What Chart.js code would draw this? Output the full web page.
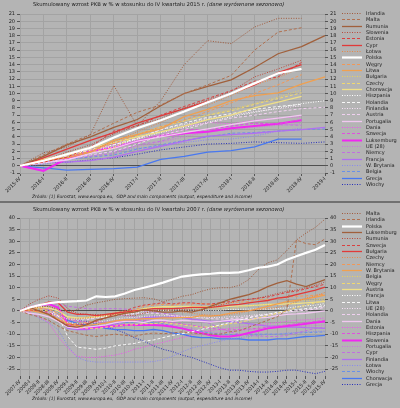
<!DOCTYPE html>
<html><head><meta charset="utf-8">
<script src="https://cdn.jsdelivr.net/npm/chart.js@4.4.0/dist/chart.umd.min.js"></script>
<style>
html,body{margin:0;padding:0;background:#b4b4b4;}
#wrap{width:400px;height:408px;position:relative;overflow:hidden;background:#b4b4b4;}
#c1{position:absolute;left:0;top:0;}
#sep{position:absolute;left:0;top:201px;width:400px;height:2px;background:#707070;}
#c2{position:absolute;left:0;top:203px;}
</style></head><body>
<div id="wrap">
<canvas id="c1" width="400" height="201" style="width:400px;height:201px"></canvas>
<div id="sep"></div>
<canvas id="c2" width="400" height="205" style="width:400px;height:205px"></canvas>
</div>
<script>
// ---------- TOP CHART DATA (vs 2015-IV) ----------
const topLabels = ['2015-IV','2016-I','2016-II','2016-III','2016-IV','2017-I','2017-II','2017-III','2017-IV','2018-I','2018-II','2018-III','2018-IV','2019-I'];
const topNames = ['Irlandia','Malta','Rumunia','Słowenia','Estonia','Cypr','Łotwa','Polska','Węgry','Litwa','Bułgaria','Czechy','Chorwacja','Hiszpania','Holandia','Finlandia','Austria','Portugalia','Dania','Szwecja','Luksemburg','UE (28)','Niemcy','Francja','W. Brytania','Belgia','Grecja','Włochy'];
const t_irl = [0,1.8,2.6,4.3,11.1,5.5,9.0,14.0,17.3,16.9,19.2,20.4,20.4,null];
const t_mlt = [0,1.5,3.0,4.3,5.9,7.4,8.4,10.0,11.2,12.5,16.0,18.5,19.1,null];
const t_rou = [0,1.3,2.9,4.0,5.3,6.4,8.3,10.0,11.0,11.9,13.6,15.5,16.5,18.0];
const t_svn = [0,0.7,1.9,2.9,4.4,5.6,6.5,8.0,9.1,10.3,12.3,13.4,14.6,null];
const t_est = [0,0.5,1.2,2.6,4.8,5.5,7.0,8.2,9.3,10.4,11.7,12.3,14.3,null];
const t_cyp = [0,1.1,2.3,3.5,4.6,5.9,6.9,7.9,8.9,10.0,11.2,12.9,14.0,null];
const t_lva = [0,0.6,1.2,2.2,3.3,4.7,6.0,7.6,8.4,9.7,11.2,12.2,13.6,null];
const t_pol = [0,0.7,1.6,2.5,3.9,5.2,6.3,7.5,8.8,10.0,11.4,12.8,13.4,null];
const t_hun = [0,0.5,1.2,2.0,3.1,4.3,5.4,6.3,7.5,8.7,10.0,11.2,12.6,null];
const t_ltu = [0,0.8,1.1,1.9,3.5,4.3,5.1,6.8,7.8,9.0,9.7,10.1,11.3,12.3];
const t_bgr = [0,0.9,1.7,2.6,3.5,4.4,5.4,6.2,7.0,7.8,8.6,9.5,10.5,null];
const t_cze = [0,0.6,1.5,1.9,2.5,4.2,5.4,6.2,7.0,7.6,8.5,9.3,10.1,null];
const t_hrv = [0,0.9,1.5,2.5,3.2,4.0,4.7,5.5,6.4,7.0,8.0,8.8,9.6,null];
const t_esp = [0,0.7,1.5,2.2,2.9,3.7,4.6,5.3,6.0,6.8,7.4,8.0,8.6,9.0];
const t_nld = [0,0.6,1.3,2.2,2.9,3.8,5.0,5.9,6.7,7.2,7.8,8.2,8.5,null];
const t_fin = [0,1.0,1.5,2.2,2.6,3.7,5.0,5.7,6.5,7.0,7.5,7.9,8.3,null];
const t_aut = [0,0.5,0.9,1.5,2.0,3.0,4.2,5.0,5.9,6.6,7.0,7.5,7.9,8.1];
const t_prt = [0,0.4,0.8,1.7,2.4,3.4,4.0,4.6,5.1,5.7,6.2,6.6,7.0,null];
const t_dnk = [0,0.9,1.6,2.2,3.0,3.8,4.3,5.4,6.0,5.8,6.3,6.6,6.8,null];
const t_swe = [0,0.4,1.2,1.8,2.9,3.3,4.2,5.0,5.0,5.5,5.9,5.8,6.4,null];
const t_lux = [0,-0.7,1.0,2.0,2.5,3.4,4.1,4.5,4.7,5.2,5.5,5.8,6.3,null];
const t_eu  = [0,0.5,0.9,1.4,2.0,2.7,3.3,4.0,4.7,5.0,5.3,5.6,5.8,null];
const t_deu = [0,0.6,1.1,1.3,1.7,2.9,3.4,4.4,5.0,5.5,5.9,5.7,5.6,null];
const t_fra = [0,0.6,0.5,0.7,1.2,2.0,2.7,3.4,4.1,4.3,4.5,4.8,5.0,5.3];
const t_gbr = [0,0.2,0.8,1.4,2.0,2.4,2.7,3.2,3.6,3.7,4.1,4.8,5.2,null];
const t_bel = [0,0.4,0.9,1.2,1.5,2.3,2.9,3.5,4.0,4.5,4.6,4.8,5.0,5.1];
const t_grc = [0,-0.3,-0.6,-0.5,-0.4,-0.2,0.9,1.3,1.9,2.1,2.6,3.7,3.7,null];
const t_ita = [0,0.4,0.5,0.8,1.1,1.6,2.2,2.6,3.0,3.1,3.3,3.2,3.1,3.3];
const topSeries = [t_irl,t_mlt,t_rou,t_svn,t_est,t_cyp,t_lva,t_pol,t_hun,t_ltu,t_bgr,t_cze,t_hrv,t_esp,t_nld,t_fin,t_aut,t_prt,t_dnk,t_swe,t_lux,t_eu,t_deu,t_fra,t_gbr,t_bel,t_grc,t_ita];
const topTicks = [-1,0,1,2,3,4,5,6,7,8,9,10,11,12,13,14,15,16,17,18,19,20,21];

// ---------- BOTTOM CHART DATA (vs 2007-IV) ----------
const botLabels = ['2007-IV','2008-I','2008-II','2008-III','2008-IV','2009-I','2009-II','2009-III','2009-IV','2010-I','2010-II','2010-III','2010-IV','2011-I','2011-II','2011-III','2011-IV','2012-I','2012-II','2012-III','2012-IV','2013-I','2013-II','2013-III','2013-IV','2014-I','2014-II','2014-III','2014-IV','2015-I','2015-II','2015-III','2015-IV'];
const botNames = ['Malta','Irlandia','Polska','Luksemburg','Rumunia','Szwecja','Bułgaria','Czechy','Niemcy','W. Brytania','Belgia','Węgry','Austria','Francja','Litwa','UE (28)','Holandia','Dania','Estonia','Hiszpania','Słowenia','Portugalia','Cypr','Finlandia','Łotwa','Włochy','Chorwacja','Grecja'];
const b_mlt = [0,1.2,1.8,2.0,0.8,-0.5,0.5,2.5,3.5,4.2,5.0,5.3,5.5,5.7,5.2,4.0,5.0,6.3,7.0,8.4,9.5,10.0,10.0,11.0,13.5,17.8,20.7,22.0,26.0,30.5,33.5,36.0,39.5];
const b_irl = [0,-1.5,-2.5,-4.0,-6.5,-8.5,-9.5,-10.5,-11.0,-10.5,-10.0,-10.5,-11.0,-10.0,-9.5,-9.8,-9.5,-9.0,-9.5,-9.8,-10.0,-10.0,-9.0,-8.5,-7.0,-5.5,-4.0,-2.5,0.5,30.5,29.0,28.5,31.0];
const b_pol = [0,1.5,2.5,3.3,3.8,4.0,4.2,4.5,6.3,6.0,6.3,7.5,9.0,10.0,11.0,12.2,13.5,14.8,15.3,15.7,16.0,16.4,16.4,16.6,17.5,18.6,19.1,20.0,22.0,23.5,25.0,26.3,28.4];
const b_lux = [0,1.5,0.0,-1.5,-4.0,-6.5,-7.0,-6.0,-4.0,-3.0,-2.0,-1.0,-0.5,0.5,0.0,-0.5,-0.5,0.0,-0.5,0.5,2.0,3.5,5.0,6.0,7.0,8.5,10.5,12.0,13.0,11.5,10.5,12.0,13.5];
const b_rou = [0,3.0,5.0,6.5,5.5,1.0,-1.0,-1.5,-1.5,-1.8,-1.5,-1.8,-2.0,-1.0,0.0,0.8,0.8,0.5,0.5,0.3,1.5,2.5,3.5,4.5,5.0,5.5,6.5,7.5,8.5,9.0,10.0,11.0,12.5];
const b_swe = [0,0.5,0.0,-0.5,-4.0,-6.0,-6.0,-5.5,-4.5,-3.0,-1.0,0.0,1.5,2.5,3.0,3.5,3.0,3.5,3.5,3.0,3.0,3.5,4.0,4.5,5.0,5.5,6.0,7.0,8.0,8.5,9.5,10.5,11.5];
const b_bgr = [0,1.5,2.5,3.8,3.5,-0.5,-1.5,-1.5,-2.0,-1.5,-1.0,-0.5,0.0,0.5,1.0,1.0,1.0,1.2,1.5,1.5,1.5,2.0,2.5,2.8,3.5,4.0,4.5,5.5,6.0,7.0,8.0,9.0,10.2];
const b_cze = [0,1.0,1.5,2.0,0.5,-3.5,-3.5,-3.0,-2.5,-2.0,-1.0,-0.5,0.0,0.5,0.5,0.5,0.0,-0.5,-1.0,-1.5,-1.8,-2.0,-1.5,-1.0,0.0,0.5,1.0,1.5,2.5,4.0,5.5,6.5,8.0];
const b_deu = [0,1.5,1.0,0.8,-1.0,-5.5,-5.5,-5.0,-4.0,-3.0,-1.0,-0.5,0.5,2.0,2.5,2.8,2.5,3.0,3.0,3.2,2.8,2.8,3.5,3.8,4.0,5.0,5.0,5.3,6.0,6.3,6.5,6.8,7.2];
const b_gbr = [0,0.3,-0.5,-1.5,-3.5,-5.5,-6.3,-6.3,-5.8,-5.2,-4.3,-3.8,-3.8,-3.3,-3.3,-3.0,-3.0,-2.8,-2.8,-2.0,-2.2,-1.8,-1.0,-0.3,0.0,1.0,2.0,3.0,4.0,4.5,5.2,6.0,6.8];
const b_bel = [0,0.8,1.0,0.8,-1.0,-3.0,-3.2,-2.6,-2.0,-1.5,-0.5,0.0,0.3,1.0,1.2,1.2,1.3,1.0,1.0,1.0,1.0,0.8,1.0,1.5,2.0,2.5,2.8,3.0,3.5,4.0,4.5,4.8,5.2];
const b_hun = [0,0.5,0.5,0.0,-2.0,-5.5,-7.0,-7.5,-7.5,-7.0,-6.5,-6.0,-6.0,-5.5,-5.5,-5.0,-5.5,-6.0,-6.5,-7.0,-6.8,-6.5,-5.5,-5.0,-4.0,-3.0,-2.0,-1.0,0.0,1.5,2.5,3.5,4.5];
const b_aut = [0,1.0,1.5,1.2,0.0,-2.5,-3.0,-3.0,-2.5,-2.0,-1.5,-1.0,0.0,1.0,1.5,1.8,1.8,2.0,2.0,1.8,1.8,1.8,2.0,2.2,2.3,2.5,2.8,2.8,3.0,3.2,3.5,3.8,4.0];
const b_fra = [0,0.5,0.0,-0.5,-2.0,-3.5,-3.5,-3.2,-2.8,-2.5,-1.8,-1.3,-1.0,0.0,0.0,0.2,0.3,0.3,0.0,0.2,0.3,0.2,0.7,0.7,0.8,0.8,0.8,1.0,1.3,1.8,2.2,2.5,3.2];
const b_ltu = [0,1.5,2.0,1.0,-2.0,-11.0,-15.6,-16.0,-16.5,-16.0,-15.0,-14.5,-14.0,-13.0,-12.5,-11.5,-10.5,-9.8,-9.0,-8.0,-7.0,-6.0,-5.0,-4.0,-3.0,-2.0,-1.5,-0.5,0.0,0.5,1.0,1.5,2.5];
const b_eu  = [0,0.5,0.2,-0.5,-2.5,-5.0,-5.5,-5.2,-4.8,-4.3,-3.5,-3.0,-2.8,-2.3,-2.2,-2.0,-2.2,-2.3,-2.5,-2.6,-2.8,-2.8,-2.5,-2.3,-2.0,-1.6,-1.3,-1.0,-0.5,0.0,0.5,1.0,2.0];
const b_nld = [0,1.0,1.5,1.3,0.3,-3.0,-4.0,-3.8,-3.0,-2.8,-2.0,-1.5,-1.3,-1.0,-1.0,-1.3,-2.0,-2.3,-2.5,-3.0,-3.3,-3.5,-3.2,-3.0,-2.5,-2.2,-1.8,-1.2,-0.5,0.0,0.3,0.8,1.5];
const b_dnk = [0,-1.0,-1.5,-2.5,-4.5,-7.0,-7.5,-7.0,-6.5,-6.0,-5.0,-4.5,-4.5,-5.0,-4.0,-4.0,-4.5,-4.0,-4.3,-4.5,-4.8,-4.5,-4.0,-3.5,-3.8,-3.0,-2.8,-2.0,-1.5,-1.3,-1.0,-0.5,0.0];
const b_est = [0,-0.5,-2.5,-5.0,-11.0,-16.0,-19.5,-20.0,-20.0,-19.5,-19.0,-18.0,-16.5,-15.5,-14.5,-13.5,-12.5,-11.5,-10.5,-9.3,-8.5,-8.0,-7.5,-7.0,-6.5,-6.0,-5.5,-5.0,-4.5,-4.0,-3.8,-3.5,-3.0];
const b_esp = [0,0.3,0.0,-0.8,-2.0,-3.5,-4.5,-4.8,-4.8,-4.8,-4.5,-4.5,-4.3,-4.2,-4.2,-4.4,-5.0,-5.6,-6.2,-6.8,-7.5,-8.0,-8.2,-8.0,-7.8,-7.5,-7.0,-6.5,-6.0,-5.5,-5.0,-4.5,-4.0];
const b_svn = [0,1.5,2.5,3.0,1.5,-5.5,-7.5,-7.5,-7.0,-6.8,-6.5,-6.0,-6.0,-6.0,-6.0,-6.3,-6.8,-7.5,-8.5,-9.5,-10.5,-11.0,-11.0,-10.5,-9.5,-8.5,-7.5,-7.0,-6.5,-6.0,-5.5,-5.0,-4.5];
const b_prt = [0,0.0,-0.3,-0.8,-2.5,-4.0,-3.5,-3.0,-2.5,-1.8,-1.8,-2.0,-2.5,-3.5,-4.0,-4.8,-5.5,-6.5,-7.5,-8.5,-9.0,-9.5,-9.0,-8.5,-8.0,-7.8,-7.5,-7.0,-7.0,-6.8,-6.5,-6.3,-6.0];
const b_cyp = [0,1.0,2.0,2.8,3.0,2.0,1.5,1.0,0.8,1.0,1.0,0.8,0.5,0.0,-0.5,-1.0,-1.5,-2.5,-3.5,-4.5,-5.5,-7.5,-9.0,-10.0,-10.5,-10.8,-11.0,-11.0,-10.5,-9.5,-8.5,-7.5,-7.0];
const b_fin = [0,1.5,1.5,0.5,-2.0,-7.5,-8.0,-8.0,-7.5,-6.5,-5.5,-4.5,-4.0,-3.0,-2.5,-2.8,-2.5,-2.8,-3.5,-4.0,-4.5,-4.5,-4.5,-5.0,-5.5,-6.0,-6.5,-6.5,-7.0,-7.0,-7.2,-7.3,-7.5];
const b_lva = [0,-1.0,-3.0,-5.0,-8.0,-15.0,-20.0,-21.5,-22.0,-22.0,-22.0,-22.0,-22.0,-22.0,-21.8,-21.0,-19.5,-17.6,-16.0,-15.0,-14.0,-13.0,-12.0,-11.5,-11.0,-10.5,-10.0,-10.0,-9.5,-9.3,-9.0,-8.8,-8.7];
const b_ita = [0,0.5,-0.3,-1.5,-3.5,-6.5,-7.0,-7.0,-6.5,-6.0,-5.5,-5.0,-4.8,-4.8,-5.0,-5.5,-6.5,-7.5,-8.3,-8.8,-9.5,-10.0,-10.2,-10.2,-10.0,-10.0,-10.0,-10.0,-9.8,-9.5,-9.3,-9.2,-9.0];
const b_hrv = [0,1.0,1.5,1.0,0.0,-4.0,-5.5,-6.0,-6.5,-7.5,-8.0,-8.0,-8.5,-8.5,-8.0,-8.5,-9.5,-10.0,-11.0,-11.5,-11.5,-12.0,-12.0,-12.0,-12.5,-12.5,-12.5,-12.0,-12.0,-11.5,-11.0,-10.8,-10.5];
const b_grc = [0,0.5,0.3,-0.5,-1.5,-3.0,-4.0,-4.5,-5.5,-7.0,-8.0,-9.5,-11.5,-13.0,-15.0,-16.5,-17.5,-19.0,-20.0,-21.5,-23.0,-24.5,-25.5,-25.5,-26.0,-26.3,-26.3,-26.0,-25.5,-25.5,-26.3,-27.0,-26.0];
const botSeries = [b_mlt,b_irl,b_pol,b_lux,b_rou,b_swe,b_bgr,b_cze,b_deu,b_gbr,b_bel,b_hun,b_aut,b_fra,b_ltu,b_eu,b_nld,b_dnk,b_est,b_esp,b_svn,b_prt,b_cyp,b_fin,b_lva,b_ita,b_hrv,b_grc];
const botTicks = [-25,-20,-15,-10,-5,0,5,10,15,20,25,30,35,40];

// ---------- STYLES ----------
const FONT = '"DejaVu Sans", sans-serif';
const DOT = [1,1.5], DASH = [3,2], SOLID = [];
const palette = [
  ['#a05a3c',DOT],['#b07050',DASH],['#a0603c',SOLID],
  ['#b84a3c',DOT],['#d84040',DASH],['#e03a3a',SOLID],
  ['#e88848',DOT],['#f09858',DASH],['#f0a050',SOLID],
  ['#e8d060',DOT],['#f0d870',DASH],['#f0e088',SOLID],
  ['#ffffff',DOT],['#f8f8f8',DASH],
  ['#f8e0f8',DOT],['#f0d0f0',DASH],['#f0c8f0',SOLID],
  ['#f050f0',DOT],['#e050e0',DASH],['#f028f0',SOLID],
  ['#d070e0',DOT],['#c070e0',DASH],['#b070f0',SOLID],
  ['#8888f0',DOT],['#6890e8',DASH],['#4878f0',SOLID],
  ['#2830b8',DOT]
];
const GRID = '#a3a3a3';
const TXT = '#1e1e1e';

function buildSets(names, series){
  let j = 0;
  return names.map((n,k)=>{
    if (n === 'Polska') {
      return {label:n, data:series[k], borderColor:'#ffffff', borderWidth:2.2, borderDash:[], order:-1};
    }
    const p = palette[j];
    const w = p[1].length ? 1 : (j === 19 ? 2 : 1.3);
    j++;
    return {label:n, data:series[k], borderColor:p[0], borderWidth:w, borderDash:p[1], order:k};
  });
}

function overlayPlugin(o){
  return {
    id:'overlay',
    afterDraw(chart){
      const ctx = chart.ctx;
      ctx.save();
      ctx.fillStyle = TXT;
      ctx.textBaseline = 'middle';
      ctx.textAlign = 'left';
      ctx.font = o.titleSize + 'px ' + FONT;
      ctx.fillText(o.title, o.titleX, o.titleY);
      const w = ctx.measureText(o.title).width;
      ctx.font = 'italic ' + o.titleSize + 'px ' + FONT;
      ctx.fillText(o.titleIt, o.titleX + w, o.titleY);
      ctx.font = 'italic ' + o.srcSize + 'px ' + FONT;
      ctx.fillText('Źródło: [1] Eurostat, www.europa.eu,  GDP and main components (output, expenditure and income)', o.srcX, o.srcY);
      chart.data.datasets.forEach((ds,i)=>{
        const y = Math.round(o.legTop + i*o.legStep) + 0.5;
        ctx.save();
        ctx.strokeStyle = ds.borderColor;
        ctx.lineWidth = ds.borderWidth;
        ctx.setLineDash(ds.borderDash || []);
        ctx.beginPath(); ctx.moveTo(o.legX, y); ctx.lineTo(o.legX + 20, y); ctx.stroke();
        ctx.restore();
        ctx.fillStyle = TXT;
        ctx.font = o.legSize + 'px ' + FONT;
        ctx.fillText(ds.label, o.legX + 24, y);
      });
      ctx.restore();
    }
  };
}

function yAxis(pos, min, max, ticks, width){
  return {
    type:'linear', position:pos, min:min, max:max,
    afterBuildTicks: s => { s.ticks = ticks.map(v => ({value:v})); },
    afterFit: s => { s.width = width; },
    border:{display:false},
    grid: pos === 'left'
      ? {color: c => (c.tick && c.tick.value === 0) ? '#505050' : GRID, lineWidth:1, tickLength:3, tickColor:'#555'}
      : {drawOnChartArea:false, tickLength:3, tickColor:'#555'},
    ticks:{autoSkip:false, font:{family:FONT, size:5}, color:TXT, padding:2}
  };
}

function makeChart(canvas, labels, names, series, min, max, ticks, pad, ov){
  return new Chart(canvas, {
    type:'line',
    data:{labels:labels, datasets:buildSets(names, series)},
    options:{
      responsive:false, animation:false, devicePixelRatio:1,
      layout:{padding:pad},
      elements:{point:{radius:0}, line:{tension:0, borderCapStyle:'butt'}},
      plugins:{legend:{display:false}, title:{display:false}, tooltip:{enabled:false}},
      scales:{
        x:{
          border:{display:false},
          grid:{color:GRID, tickLength:3, tickColor:'#555'},
          ticks:{autoSkip:false, maxRotation:45, minRotation:45, font:{family:FONT, size:5}, color:TXT, padding:0},
          afterFit: s => { s.height = 22; }
        },
        y: yAxis('left', min, max, ticks, 19),
        y2: yAxis('right', min, max, ticks, 14)
      }
    },
    plugins:[overlayPlugin(ov)]
  });
}

makeChart(document.getElementById('c1'), topLabels, topNames, topSeries, -1, 21, topTicks,
  {left:1, right:61, top:14, bottom:6},
  {title:'Skumulowany wzrost PKB w % w stosunku do IV kwartału 2015 r. ', titleIt:'(dane wyrównane sezonowo)',
   titleSize:5.3, titleX:33, titleY:5, srcSize:4.4, srcX:32, srcY:197, legX:342, legTop:13, legStep:6.33, legSize:5});

makeChart(document.getElementById('c2'), botLabels, botNames, botSeries, -28, 40, botTicks,
  {left:1, right:61, top:15, bottom:10},
  {title:'Skumulowany wzrost PKB w % w stosunku do IV kwartału 2007 r. ', titleIt:'(dane wyrównane sezonowo)',
   titleSize:5.3, titleX:33, titleY:7, srcSize:4.4, srcX:32, srcY:196, legX:342, legTop:10, legStep:6.33, legSize:5});
</script>
</body></html>
